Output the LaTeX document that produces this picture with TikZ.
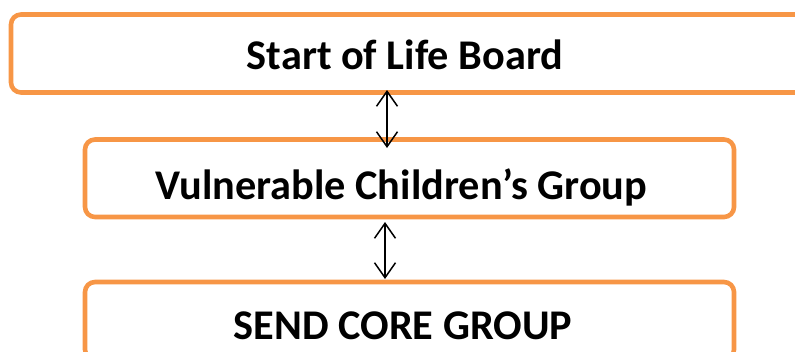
\documentclass[tikz,border=0pt]{standalone}
\usepackage{fontspec}
\setmainfont{Carlito}
\usepackage{xcolor}
\usetikzlibrary{arrows.meta,positioning}
\definecolor{boxorange}{HTML}{F79646}

\begin{document}
\begin{tikzpicture}[x=1pt,y=-1pt,
		groupbox/.style={draw=boxorange, line width=4.6pt, rounded corners=10pt, rectangle,
			outer sep=0pt, inner ysep=0pt, text depth=0pt,
			font=\bfseries\fontsize{42.3}{48}\selectfont},
		link/.style={{Straight Barb[length=15pt,width=21pt]}-{Straight Barb[length=15pt,width=21pt]}, line width=1.5pt, black}
		]
		\useasboundingbox (0,0) rectangle (795,351);
		
		% Les groupes
		\node[groupbox, anchor=west, minimum width=820pt, minimum height=78pt, text height=31pt] (slb) at (11,53.5) {\hspace*{-32pt}Start of Life Board};
		\node[groupbox, minimum width=649pt, minimum height=77.5pt, text height=42pt] (vcg) at (409.5,178.25) {\hspace*{-16pt}Vulnerable Children’s Group};
		\node[groupbox, minimum width=649pt, minimum height=77.5pt, text height=36.5pt] (send) at (409.5,320.75) {\hspace*{-13pt}SEND CORE GROUP};
		
		% Les liens
		\coordinate (ax1) at (387,0);
		\coordinate (ax2) at (385,0);
		\draw[link, shorten <=-2.5pt, shorten >=-8.5pt] (slb.south -| ax1) -- (vcg.north -| ax1);
		\draw[link, shorten <=5pt, shorten >=3pt] (vcg.south -| ax2) -- (send.north -| ax2);
	\end{tikzpicture}
\end{document}
